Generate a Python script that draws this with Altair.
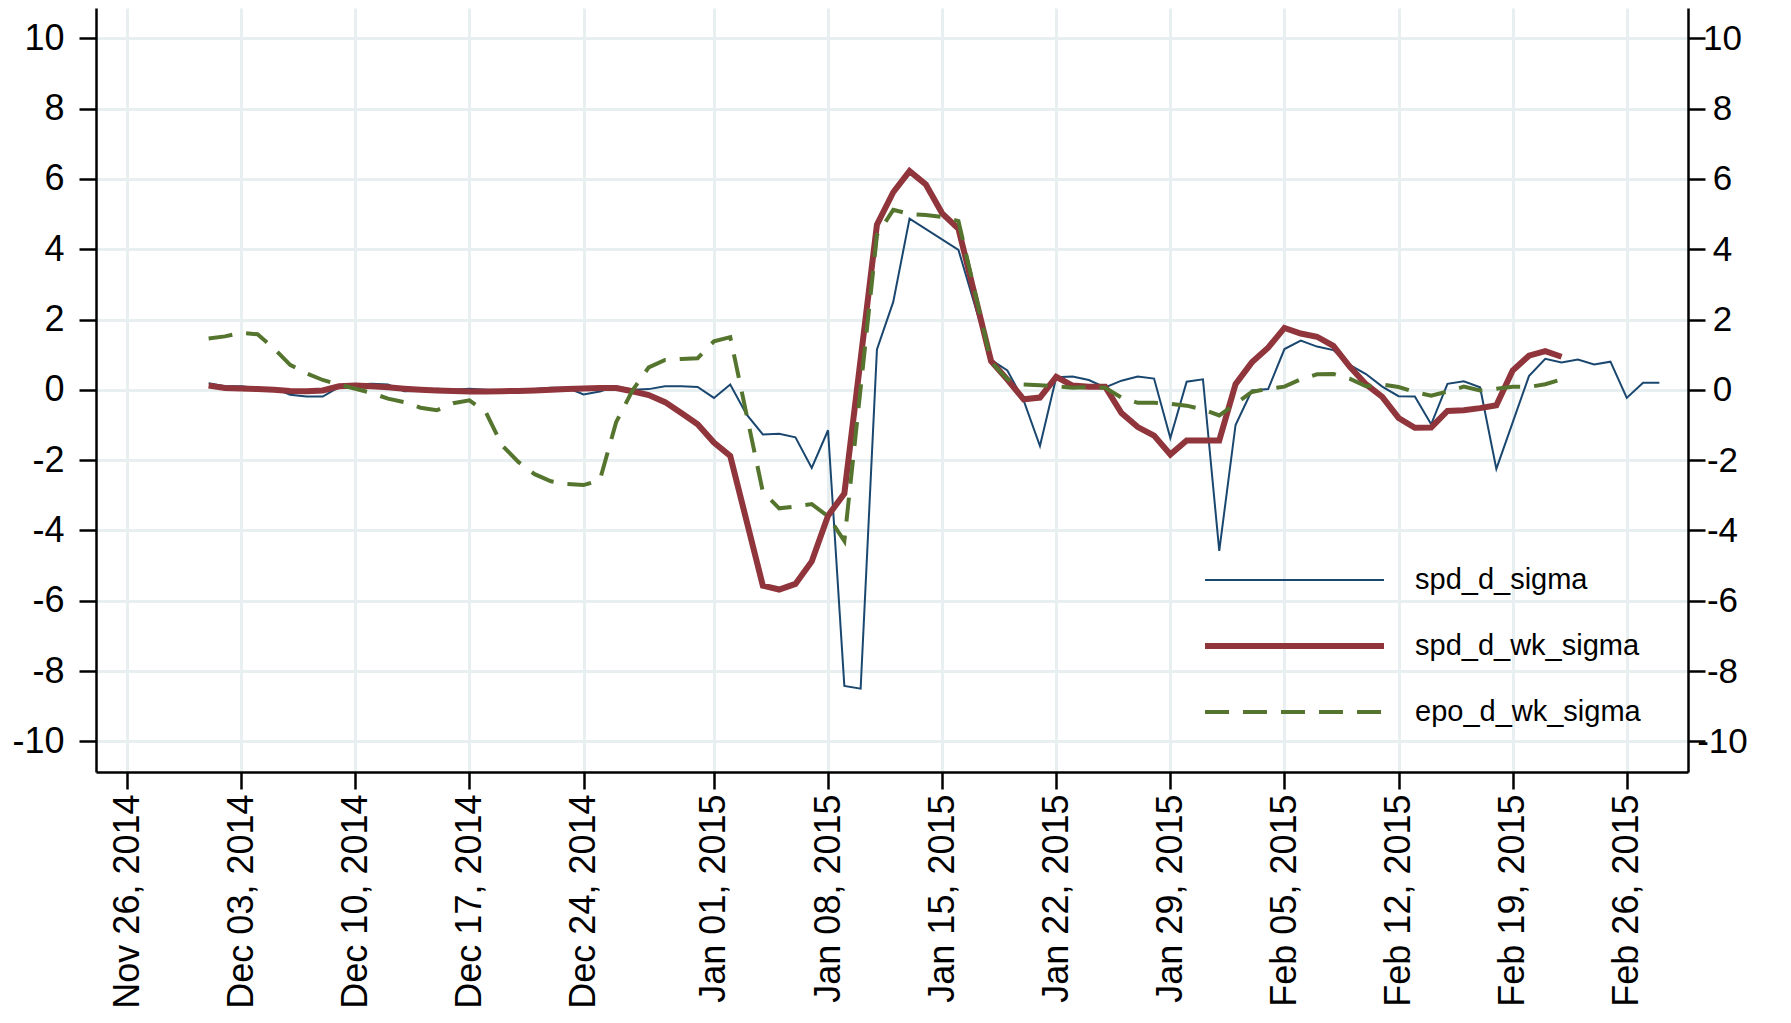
import altair as alt
import pandas as pd

FONT = "Liberation Sans"

series_names = ["spd_d_sigma", "spd_d_wk_sigma", "epo_d_wk_sigma"]

blue_dates = [
    "2014-12-01", "2014-12-02", "2014-12-03", "2014-12-04", "2014-12-05", "2014-12-06", "2014-12-07",
    "2014-12-08", "2014-12-09", "2014-12-10", "2014-12-11", "2014-12-12", "2014-12-13", "2014-12-14",
    "2014-12-15", "2014-12-16", "2014-12-17", "2014-12-18", "2014-12-19", "2014-12-20", "2014-12-21",
    "2014-12-22", "2014-12-23", "2014-12-24", "2014-12-25", "2014-12-26", "2014-12-27", "2014-12-28",
    "2014-12-29", "2014-12-30", "2014-12-31", "2015-01-01", "2015-01-02", "2015-01-03", "2015-01-04",
    "2015-01-05", "2015-01-06", "2015-01-07", "2015-01-08", "2015-01-09", "2015-01-10", "2015-01-11",
    "2015-01-12", "2015-01-13", "2015-01-16", "2015-01-18", "2015-01-19", "2015-01-20", "2015-01-21",
    "2015-01-22", "2015-01-23", "2015-01-24", "2015-01-25", "2015-01-26", "2015-01-27", "2015-01-28",
    "2015-01-29", "2015-01-30", "2015-01-31", "2015-02-01", "2015-02-02", "2015-02-03", "2015-02-04",
    "2015-02-05", "2015-02-06", "2015-02-07", "2015-02-08", "2015-02-09", "2015-02-10", "2015-02-11",
    "2015-02-12", "2015-02-13", "2015-02-14", "2015-02-15", "2015-02-16", "2015-02-17", "2015-02-18",
    "2015-02-20", "2015-02-21", "2015-02-22", "2015-02-23", "2015-02-24", "2015-02-25", "2015-02-26",
    "2015-02-27", "2015-02-28",
]
blue_values = [
    0.19, 0.10, 0.10, 0.05, 0.05, -0.14, -0.19,
    -0.19, 0.08, 0.15, 0.17, 0.15, -0.04, -0.03,
    0.03, 0.00, 0.03, 0.00, -0.03, 0.00, 0.02,
    0.06, 0.06, -0.13, -0.05, 0.10, 0.00, 0.02,
    0.10, 0.10, 0.08, -0.23, 0.15, -0.70, -1.27,
    -1.25, -1.35, -2.22, -1.15, -8.42, -8.50, 1.15,
    2.50, 4.87, 3.98, 0.85, 0.55, -0.30, -1.60,
    0.36, 0.38, 0.28, 0.07, 0.26, 0.38, 0.32,
    -1.37, 0.23, 0.30, -4.58, -1.00, -0.02, 0.02,
    1.16, 1.40, 1.23, 1.13, 0.71, 0.45, 0.09,
    -0.18, -0.19, -0.98, 0.17, 0.24, 0.07, -2.25,
    0.39, 0.88, 0.78, 0.86, 0.72, 0.80, -0.23,
    0.20, 0.20,
]

red_dates = [
    "2014-12-01", "2014-12-02", "2014-12-03", "2014-12-04", "2014-12-05", "2014-12-06", "2014-12-07",
    "2014-12-08", "2014-12-09", "2014-12-10", "2014-12-11", "2014-12-12", "2014-12-13", "2014-12-14",
    "2014-12-15", "2014-12-16", "2014-12-17", "2014-12-18", "2014-12-19", "2014-12-20", "2014-12-21",
    "2014-12-22", "2014-12-23", "2014-12-24", "2014-12-25", "2014-12-26", "2014-12-27", "2014-12-28",
    "2014-12-29", "2014-12-30", "2014-12-31", "2015-01-01", "2015-01-02", "2015-01-04", "2015-01-05",
    "2015-01-06", "2015-01-07", "2015-01-08", "2015-01-09", "2015-01-11", "2015-01-12", "2015-01-13",
    "2015-01-14", "2015-01-15", "2015-01-16", "2015-01-18", "2015-01-19", "2015-01-20", "2015-01-21",
    "2015-01-22", "2015-01-23", "2015-01-24", "2015-01-25", "2015-01-26", "2015-01-27", "2015-01-28",
    "2015-01-29", "2015-01-30", "2015-01-31", "2015-02-01", "2015-02-02", "2015-02-03", "2015-02-04",
    "2015-02-05", "2015-02-06", "2015-02-07", "2015-02-08", "2015-02-09", "2015-02-10", "2015-02-11",
    "2015-02-12", "2015-02-13", "2015-02-14", "2015-02-15", "2015-02-16", "2015-02-17", "2015-02-18",
    "2015-02-19", "2015-02-20", "2015-02-21", "2015-02-22",
]
red_values = [
    0.12, 0.05, 0.04, 0.02, 0.00, -0.03, -0.04,
    -0.02, 0.10, 0.12, 0.10, 0.07, 0.03, 0.00,
    -0.02, -0.03, -0.05, -0.05, -0.04, -0.03, -0.02,
    0.00, 0.02, 0.04, 0.05, 0.05, -0.04, -0.15,
    -0.35, -0.66, -0.98, -1.50, -1.88, -5.57, -5.68,
    -5.52, -4.88, -3.58, -2.95, 4.70, 5.62, 6.22,
    5.84, 5.02, 4.58, 0.82, 0.29, -0.27, -0.22,
    0.37, 0.12, 0.09, 0.09, -0.66, -1.06, -1.30,
    -1.84, -1.44, -1.44, -1.44, 0.16, 0.78, 1.20,
    1.76, 1.60, 1.51, 1.25, 0.66, 0.16, -0.20,
    -0.80, -1.08, -1.07, -0.60, -0.58, -0.52, -0.44,
    0.55, 0.97, 1.10, 0.94,
]

green_dates = [
    "2014-12-01", "2014-12-02", "2014-12-03", "2014-12-04", "2014-12-05", "2014-12-06", "2014-12-07",
    "2014-12-08", "2014-12-09", "2014-12-10", "2014-12-11", "2014-12-12", "2014-12-13", "2014-12-14",
    "2014-12-15", "2014-12-16", "2014-12-17", "2014-12-18", "2014-12-19", "2014-12-20", "2014-12-21",
    "2014-12-22", "2014-12-23", "2014-12-24", "2014-12-25", "2014-12-26", "2014-12-27", "2014-12-28",
    "2014-12-29", "2014-12-30", "2014-12-31", "2015-01-01", "2015-01-02", "2015-01-04", "2015-01-05",
    "2015-01-06", "2015-01-07", "2015-01-08", "2015-01-09", "2015-01-11", "2015-01-12", "2015-01-13",
    "2015-01-14", "2015-01-15", "2015-01-16", "2015-01-18", "2015-01-19", "2015-01-20", "2015-01-21",
    "2015-01-22", "2015-01-23", "2015-01-24", "2015-01-25", "2015-01-26", "2015-01-27", "2015-01-28",
    "2015-01-29", "2015-01-30", "2015-01-31", "2015-02-01", "2015-02-02", "2015-02-03", "2015-02-04",
    "2015-02-05", "2015-02-06", "2015-02-07", "2015-02-08", "2015-02-09", "2015-02-10", "2015-02-11",
    "2015-02-12", "2015-02-13", "2015-02-14", "2015-02-15", "2015-02-16", "2015-02-17", "2015-02-18",
    "2015-02-19", "2015-02-20", "2015-02-21", "2015-02-22",
]
green_values = [
    1.46, 1.52, 1.62, 1.58, 1.18, 0.71, 0.47,
    0.28, 0.15, 0.03, -0.09, -0.25, -0.35, -0.51,
    -0.58, -0.38, -0.30, -0.63, -1.58, -2.05, -2.40,
    -2.60, -2.68, -2.71, -2.57, -0.92, -0.02, 0.64,
    0.85, 0.88, 0.90, 1.38, 1.50, -2.90, -3.37,
    -3.32, -3.25, -3.60, -4.30, 4.40, 5.12, 5.00,
    4.97, 4.92, 4.80, 0.80, 0.30, 0.15, 0.13,
    0.10, 0.06, 0.08, 0.06, -0.22, -0.37, -0.37,
    -0.40, -0.45, -0.56, -0.73, -0.40, -0.06, 0.03,
    0.09, 0.30, 0.44, 0.45, 0.32, 0.10, 0.15,
    0.08, -0.06, -0.17, -0.05, 0.09, -0.02, 0.03,
    0.09, 0.08, 0.16, 0.30,
]

x_tick_dates = [
    "2014-11-26", "2014-12-03", "2014-12-10", "2014-12-17", "2014-12-24", "2015-01-01", "2015-01-08",
    "2015-01-15", "2015-01-22", "2015-01-29", "2015-02-05", "2015-02-12", "2015-02-19", "2015-02-26",
]
y_ticks = [-10, -8, -6, -4, -2, 0, 2, 4, 6, 8, 10]


def ms(s):
    return int(pd.Timestamp(s, tz="UTC").value // 10**6)


W, H = 1592, 764
x_scale = alt.Scale(type="utc", domain=[ms("2014-11-24 02:10"), ms("2015-03-01 18:10")])
y_scale = alt.Scale(domain=[-10.87, 10.86], nice=False, zero=False)

label_expr = "datum.value < 0 ? '-' + (-datum.value) : '' + datum.value"

x_enc = alt.X(
    "date:T",
    scale=x_scale,
    axis=alt.Axis(
        values=[ms(d) for d in x_tick_dates],
        labelExpr="utcFormat(datum.value, '%b %d, %Y')",
        labelAngle=-90,
        labelPadding=5,
        labelFontSize=36,
        grid=True,
        title=None,
        labelFlush=False,
        labelOverlap=False,
    ),
)
y_left = alt.Y(
    "value:Q",
    scale=y_scale,
    axis=alt.Axis(values=y_ticks, labelExpr=label_expr, grid=True, title=None,
                  labelPadding=15, labelFontSize=36, labelOverlap=False),
)
y_right = alt.Y(
    "value:Q",
    scale=y_scale,
    axis=alt.Axis(values=y_ticks, labelExpr=label_expr, grid=False, title=None, orient="right",
                  labelAlign="center", labelPadding=17, labelFontSize=35, labelOverlap=False),
)

styles = {
    "spd_d_sigma": dict(color="#1a476f", strokeWidth=2),
    "spd_d_wk_sigma": dict(color="#90353b", strokeWidth=6),
    "epo_d_wk_sigma": dict(color="#55752f", strokeWidth=4, strokeDash=[24, 14]),
}
series_data = {
    "spd_d_sigma": (blue_dates, blue_values),
    "spd_d_wk_sigma": (red_dates, red_values),
    "epo_d_wk_sigma": (green_dates, green_values),
}

line_layers = []
for name in series_names:
    d, v = series_data[name]
    df = pd.DataFrame({"date": d, "value": v, "series": name})
    line_layers.append(
        alt.Chart(df).mark_line(**styles[name]).encode(x=x_enc, y=y_left)
    )

# legend (inside plot, bottom right)
legend_layers = []
leg_y0, leg_dy = 572, 66
for i, name in enumerate(series_names):
    ldf = pd.DataFrame({"label": [name]})
    yy = leg_y0 + i * leg_dy
    legend_layers.append(
        alt.Chart(ldf).mark_rule(**styles[name]).encode(
            x=alt.value(1109), x2=alt.value(1288), y=alt.value(yy)
        )
    )
    legend_layers.append(
        alt.Chart(ldf).mark_text(align="left", baseline="middle", fontSize=29, font=FONT,
                                 color="black").encode(
            x=alt.value(1319), y=alt.value(yy), text="label:N"
        )
    )

left_group = alt.layer(*line_layers, *legend_layers)

bd, bv = series_data["spd_d_sigma"]
right_axis_layer = alt.Chart(pd.DataFrame({"date": bd, "value": bv})).mark_line(opacity=0).encode(
    x=x_enc, y=y_right
)

chart = (
    alt.layer(left_group, right_axis_layer)
    .resolve_scale(y="independent")
    .properties(
        width=W,
        height=H,
        autosize=alt.AutoSizeParams(type="none"),
        padding={"left": 88, "top": 0, "right": 95, "bottom": 245},
    )
    .configure_view(stroke=None)
    .configure_axis(
        domainColor="black",
        domainWidth=2.5,
        tickColor="black",
        tickWidth=2.5,
        tickSize=17,
        labelFont=FONT,
        labelFontSize=35,
        labelColor="black",
        labelLimit=500,
        gridColor="#e8eff1",
        gridWidth=3,
    )
)

chart.save("out.html", embed_options={"renderer": "svg", "actions": False})
